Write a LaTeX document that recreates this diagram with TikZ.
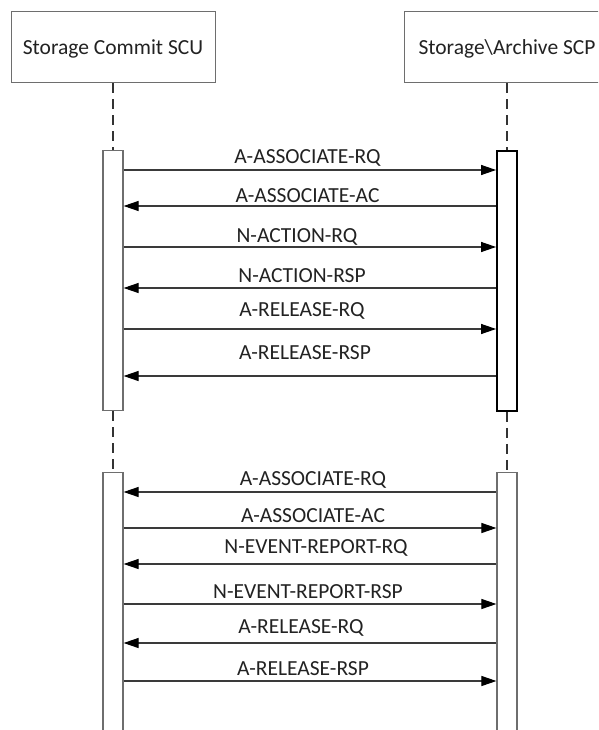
\documentclass[tikz,border=0pt]{standalone}
\usepackage{fontspec}
\setmainfont{Carlito}
\usetikzlibrary{arrows.meta}
\definecolor{boxgray}{HTML}{6E6E6E}
\definecolor{txt}{HTML}{222222}
\definecolor{lifec}{HTML}{333333}
\definecolor{arrc}{HTML}{3A3A3A}
\tikzset{
  hdr/.style={draw=boxgray, line width=1pt, minimum height=71pt, inner sep=0pt,
    text height=13.8pt, text depth=0pt, font=\fontsize{21.5}{26}\selectfont, text=txt},
  bar/.style={draw=boxgray, fill=white, line width=1.2pt, minimum width=20pt, inner sep=0pt},
  thickbar/.style={bar, draw=black, line width=1.8pt},
  life/.style={draw=lifec, line width=1.5pt, dash pattern=on 10pt off 6pt},
  msg/.style={draw=arrc, line width=1.1pt, -{Triangle[length=15pt,width=10pt,color=black]}},
  lbl/.style={font=\fontsize{21.5}{26}\selectfont, text=txt, anchor=base, inner sep=0pt}
}
\begin{document}
\begin{tikzpicture}[x=1pt,y=-1pt]
\useasboundingbox (0,0) rectangle (598,730);
\clip (0,0) rectangle (598,730);
\fill[white] (0,0) rectangle (598,730);
% headers
\node[hdr, minimum width=204pt] (scu) at (113,47.5) {Storage Commit SCU};
\node[hdr, minimum width=206pt] (scp) at (507,47.5) {Storage\textbackslash Archive SCP};
% activation bars
\node[bar, minimum height=260pt, anchor=north] (L1) at (113,150) {};
\node[thickbar, minimum height=260pt, anchor=north] (R1) at (507,150) {};
\node[bar, minimum height=280pt, anchor=north] (L2) at (113,472) {};
\node[bar, minimum height=280pt, anchor=north] (R2) at (507,472) {};
% lifelines
\draw[life] (scu.south) -- (L1.north);
\draw[life] (scp.south) -- (R1.north);
\draw[life] (L1.south) -- (L2.north);
\draw[life] (R1.south) -- (R2.north);
% block 1 messages
\foreach \y/\b/\x/\t [count=\i] in {170/164/307.5/A-ASSOCIATE-RQ, 247/242/297/N-ACTION-RQ, 329/316/302/A-RELEASE-RQ}{
  \draw[msg] (L1.east |- 0,\y) -- (R1.west |- 0,\y);
  \node[lbl] (ra\i) at (\x,\b) {\t};
}
\foreach \y/\b/\x/\t [count=\i] in {206/202/307.5/A-ASSOCIATE-AC, 288/282/302/N-ACTION-RSP, 376/359/305/A-RELEASE-RSP}{
  \draw[msg] (R1.west |- 0,\y) -- (L1.east |- 0,\y);
  \node[lbl] (la\i) at (\x,\b) {\t};
}
% block 2 messages
\foreach \y/\b/\x/\t [count=\i] in {528/522/313/A-ASSOCIATE-AC, 604/598/308/N-EVENT-REPORT-RSP, 681/675/303/A-RELEASE-RSP}{
  \draw[msg] (L2.east |- 0,\y) -- (R2.west |- 0,\y);
  \node[lbl] (rb\i) at (\x,\b) {\t};
}
\foreach \y/\b/\x/\t [count=\i] in {492/485/313/A-ASSOCIATE-RQ, 564/553/316/N-EVENT-REPORT-RQ, 643/633/301/A-RELEASE-RQ}{
  \draw[msg] (R2.west |- 0,\y) -- (L2.east |- 0,\y);
  \node[lbl] (lb\i) at (\x,\b) {\t};
}
\end{tikzpicture}
\end{document}
